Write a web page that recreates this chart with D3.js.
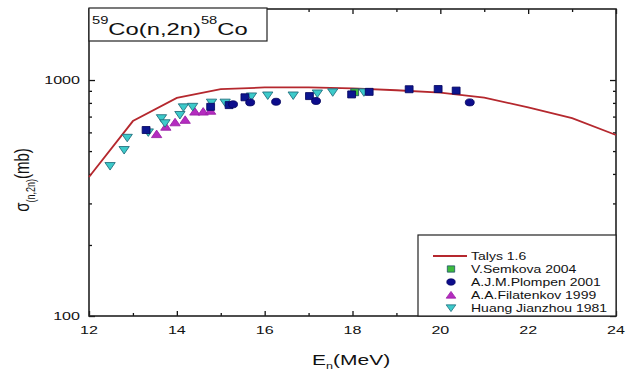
<!DOCTYPE html>
<html><head><meta charset="utf-8">
<script src="https://cdn.jsdelivr.net/npm/d3@7"></script>
<style>html,body{margin:0;padding:0;background:#fff}svg{display:block}text{font-family:"Liberation Sans",Arial,sans-serif;fill:#111}</style>
</head><body>
<svg id="chart" width="627" height="376"></svg>
<script>
// ---- data ----
const talysE = [12, 13, 14, 15, 16, 17, 18, 19, 20, 21, 22, 23, 24];
const talysV = [388, 670, 840, 915, 930, 931, 922, 905, 884, 843, 765, 690, 585];

const semkovaE = [18.05];
const semkovaV = [888];

const plompenE = [15.28, 15.67, 16.26, 17.17, 20.67];
const plompenV = [789, 804, 809, 815, 804];

// dark squares drawn in the plot (no legend entry)
const darkSqE = [13.30, 14.77, 15.19, 15.55, 17.02, 17.98, 18.38, 19.29, 19.95, 20.36];
const darkSqV = [614, 770, 783, 845, 855, 869, 891, 914, 916, 902];

const filatenkovE = [13.54, 13.75, 13.96, 14.19, 14.41, 14.60, 14.77];
const filatenkovV = [590, 634, 662, 678, 735, 735, 741];

const huangE = [12.48, 12.80, 12.87, 13.35, 13.65, 13.73, 14.07, 14.15, 14.36, 14.79, 15.10, 15.70, 16.07, 16.65, 17.20, 17.55, 18.26];
const huangV = [432, 505, 569, 600, 689, 656, 711, 766, 770, 802, 802, 852, 860, 860, 877, 887, 887];

const xMajor = [12, 14, 16, 18, 20, 22, 24];
const xMinor = [13, 15, 17, 19, 21, 23];
const yMajor = [100, 1000];
const yMinor = [200, 300, 400, 500, 600, 700, 800, 900];

const legendLabels = ["Talys 1.6", "V.Semkova 2004", "A.J.M.Plompen 2001", "A.A.Filatenkov 1999", "Huang Jianzhou 1981"];

// ---- drawing ----
const SX = 1.4;
const svg = d3.select("#chart");
const L = 89, R = 616, T = 9, B = 316;
const x = d3.scaleLinear().domain([12, 24]).range([L, R]);
const y = d3.scaleLog().domain([100, 2000]).range([B, T]);

function txt(g, px, py, anchor, size) {
  return g.append("text")
    .attr("transform", `translate(${px},${py}) scale(${SX},1)`)
    .attr("text-anchor", anchor)
    .style("font-size", size + "px");
}

// axes ticks
function axisG(gen, tx, ty) {
  const g = svg.append("g").attr("transform", `translate(${tx},${ty})`).call(gen);
  g.select(".domain").remove();
  g.selectAll("line").attr("stroke", "#111").attr("stroke-width", 1.3);
  return g;
}
axisG(d3.axisBottom(x).tickValues(xMajor).tickSize(-5).tickFormat(""), 0, B);
axisG(d3.axisBottom(x).tickValues(xMinor).tickSize(-3).tickFormat(""), 0, B);
axisG(d3.axisTop(x).tickValues(xMajor).tickSize(-5).tickFormat(""), 0, T);
axisG(d3.axisTop(x).tickValues(xMinor).tickSize(-3).tickFormat(""), 0, T);
axisG(d3.axisLeft(y).tickValues(yMajor).tickSize(-6).tickFormat(""), L, 0);
axisG(d3.axisLeft(y).tickValues(yMinor).tickSize(-3).tickFormat(""), L, 0);
axisG(d3.axisRight(y).tickValues(yMajor).tickSize(-6).tickFormat(""), R, 0);
axisG(d3.axisRight(y).tickValues(yMinor).tickSize(-3).tickFormat(""), R, 0);

// frame
svg.append("rect").attr("x", L).attr("y", T).attr("width", R - L).attr("height", B - T)
  .attr("fill", "none").attr("stroke", "#222").attr("stroke-width", 1.6);

// tick labels
xMajor.forEach(v => txt(svg, x(v), 334, "middle", 11.5).text(v));
yMajor.forEach(v => txt(svg, 80, y(v) + 4, "end", 11.5).text(v));

// Talys line
const talys = talysE.map((e, i) => [e, talysV[i]]);
svg.append("path").datum(talys)
  .attr("d", d3.line().x(d => x(d[0])).y(d => y(d[1])))
  .attr("fill", "none").attr("stroke", "#b5282e").attr("stroke-width", 1.8);

// marker shapes
const shapes = {
  square: "M-3.5,-3.5H3.5V3.5H-3.5Z",
  circle: "M-4,0A4,3.5 0 1,0 4,0A4,3.5 0 1,0 -4,0Z",
  up: "M0,-4L4.6,3.5L-4.6,3.5Z",
  down: "M-4.6,-3.5L4.6,-3.5L0,4Z"
};
const styles = {
  semkova: {shape: "square", fill: "#3dbb3d", stroke: "#1d4d6a"},
  plompen: {shape: "circle", fill: "#0c0c8c", stroke: "#060660"},
  darkSq: {shape: "square", fill: "#0c1690", stroke: "#060660"},
  filatenkov: {shape: "up", fill: "#b42cbf", stroke: "#9a1fa5"},
  huang: {shape: "down", fill: "#3ccaca", stroke: "#1d6a7a"}
};
function drawSeries(E, V, st) {
  svg.append("g").selectAll("path").data(E.map((e, i) => [e, V[i]])).join("path")
    .attr("d", shapes[st.shape])
    .attr("transform", d => `translate(${x(d[0])},${y(d[1])}) scale(${SX * 0.8},1)`)
    .attr("fill", st.fill).attr("stroke", st.stroke).attr("stroke-width", 0.8);
}
drawSeries(filatenkovE, filatenkovV, styles.filatenkov);
drawSeries(huangE, huangV, styles.huang);
drawSeries(semkovaE, semkovaV, styles.semkova);
drawSeries(darkSqE, darkSqV, styles.darkSq);
drawSeries(plompenE, plompenV, styles.plompen);

// title box
svg.append("rect").attr("x", L).attr("y", T - 1).attr("width", 178).attr("height", 33)
  .attr("fill", "#fff").attr("stroke", "#222").attr("stroke-width", 1.2);
const tt = txt(svg, 92, 35, "start", 17);
tt.append("tspan").attr("dy", -11).style("font-size", "10.5px").text("59");
tt.append("tspan").attr("dy", 11).text("Co(n,2n)");
tt.append("tspan").attr("dy", -11).style("font-size", "10.5px").text("58");
tt.append("tspan").attr("dy", 11).text("Co");

// legend
const lg = svg.append("g");
lg.append("rect").attr("x", 418).attr("y", 235).attr("width", R - 418).attr("height", B - 235)
  .attr("fill", "#fff").attr("stroke", "#222").attr("stroke-width", 1.2);
const rowY = [256, 269, 282, 295, 308];
lg.append("line").attr("x1", 433).attr("x2", 467).attr("y1", rowY[0]).attr("y2", rowY[0])
  .attr("stroke", "#b5282e").attr("stroke-width", 1.8);
const legSt = [null, styles.semkova, styles.plompen, styles.filatenkov, styles.huang];
legSt.forEach((st, i) => {
  if (st) lg.append("path").attr("d", shapes[st.shape])
    .attr("transform", `translate(451,${rowY[i]}) scale(${SX * 0.75},0.9)`)
    .attr("fill", st.fill).attr("stroke", st.stroke).attr("stroke-width", 0.8);
  txt(lg, 471, rowY[i] + 4, "start", 10).text(legendLabels[i]);
});

// axis titles
const xt = txt(svg, 312, 365, "start", 15);
xt.append("tspan").text("E");
xt.append("tspan").attr("dy", 4).style("font-size", "9px").text("n");
xt.append("tspan").attr("dy", -4).text("(MeV)");

const yt = svg.append("text")
  .attr("transform", `translate(29,180) scale(${SX},1) rotate(-90)`)
  .attr("text-anchor", "middle").style("font-size", "15px");
yt.append("tspan").text("σ");
yt.append("tspan").attr("dy", 4).style("font-size", "9px").text("(n,2n)");
yt.append("tspan").attr("dy", -4).text("(mb)");
</script>
</body></html>
